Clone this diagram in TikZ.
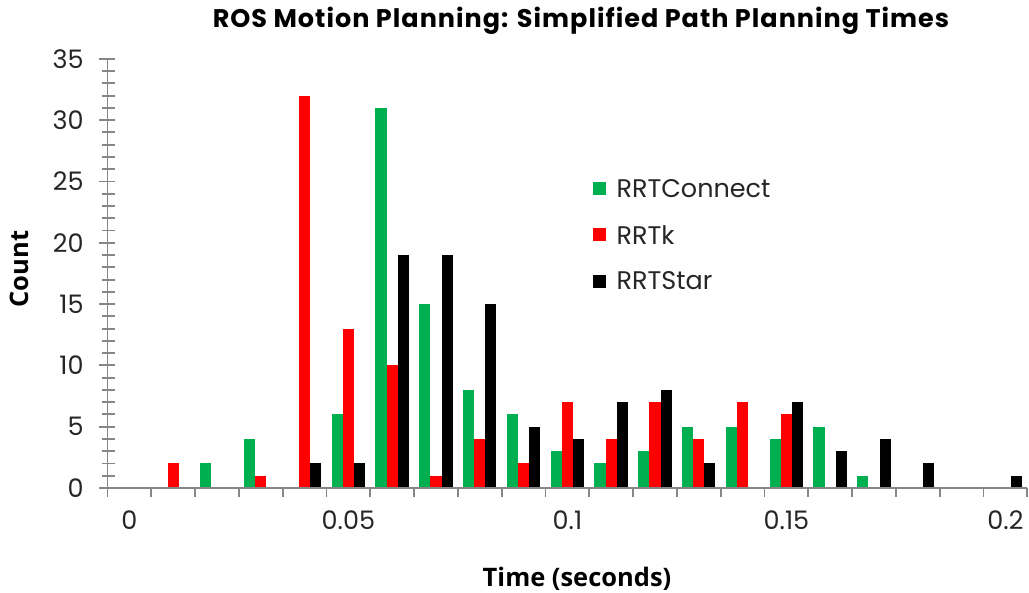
\documentclass[tikz,border=0pt]{standalone}
\usepackage{fontspec}
\setmainfont{Poppins}
\newfontfamily\titlefont[LetterSpace=4]{Poppins}
\newfontfamily\labfont{Open Sans}
\usetikzlibrary{positioning}
\definecolor{rrtconnect}{HTML}{00B050}
\definecolor{rrtk}{HTML}{FF0000}
\definecolor{rrtstar}{HTML}{000000}
\definecolor{axisgray}{HTML}{868686}

\begin{document}
\begin{tikzpicture}[x=0.876cm,y=0.2452cm,
  ax/.style={draw=axisgray,line width=1.1pt},
  tk/.style={font=\fontsize{14.5}{16}\selectfont,text=black!85,inner sep=0pt},
  hd/.style={font=\titlefont\fontsize{14.5}{16}\selectfont\bfseries,inner sep=0pt},
  lab/.style={font=\labfont\fontsize{14.5}{16}\selectfont\bfseries,inner sep=0pt},
  key/.style={minimum size=0.26cm,inner sep=0pt}]
  \useasboundingbox[fill=white] (-2.4543,-8.5644) rectangle (21.0388,39.804);
  % bars: bin, RRTConnect, RRTk, RRTStar
  \foreach \k/\g/\r/\b in {0/0/0/0,1/0/2/0,2/2/0/0,3/4/1/0,4/0/32/2,5/6/13/2,
      6/31/10/19,7/15/1/19,8/8/4/15,9/6/2/5,10/3/7/4,11/2/4/7,12/3/7/8,
      13/5/4/2,14/5/7/0,15/4/6/7,16/5/0/3,17/1/0/4,18/0/0/2,19/0/0/0,20/0/0/1}{
    \ifnum\g>0 \fill[rrtconnect] (\k+0.118,0) rectangle ++(0.254,\g); \fi
    \ifnum\r>0 \fill[rrtk] (\k+0.372,0) rectangle ++(0.254,\r); \fi
    \ifnum\b>0 \fill[rrtstar] (\k+0.626,0) rectangle ++(0.254,\b); \fi
  }
  \draw[ax] (0,0) -- (0,35);
  \draw[ax] (0,0) -- (21,0);
  \foreach \v in {0,...,35} \draw[ax] (-0.126,\v) -- (0.171,\v);
  \foreach \v in {0,5,...,35}{
    \draw[ax] (-0.194,\v) -- (0.171,\v);
    \node[tk,anchor=east] (y\v) at (-0.537,\v) {\v};
  }
  \foreach \k in {0,...,21} \draw[ax] (\k,0) -- (\k,-0.73);
  \foreach \k/\t in {0/0,5/0.05,10/0.1,15/0.15,20/0.2}
    \node[tk] (x\k) at (\k+0.5,-2.65) {\t};
  \node[hd,anchor=base] (title) at (10.81,37.52) {ROS Motion Planning: Simplified Path Planning Times};
  \node[lab,anchor=base] (xlab) at (10.72,-8.07) {Time (seconds)};
  \node[lab,rotate=90] (ylab) at (-2.0,17.86) {Count};
  % legend
  \node[key,fill=rrtconnect] (kc) at (11.24,24.43) {};
  \node[key,fill=rrtk] (kk) at (11.24,20.67) {};
  \node[key,fill=rrtstar] (ks) at (11.24,16.88) {};
  \node[tk,right=0.19cm of kc] (lc) {RRTConnect};
  \node[tk,right=0.19cm of kk] (lk) {RRTk};
  \node[tk,right=0.19cm of ks] (ls) {RRTStar};
\end{tikzpicture}
\end{document}
